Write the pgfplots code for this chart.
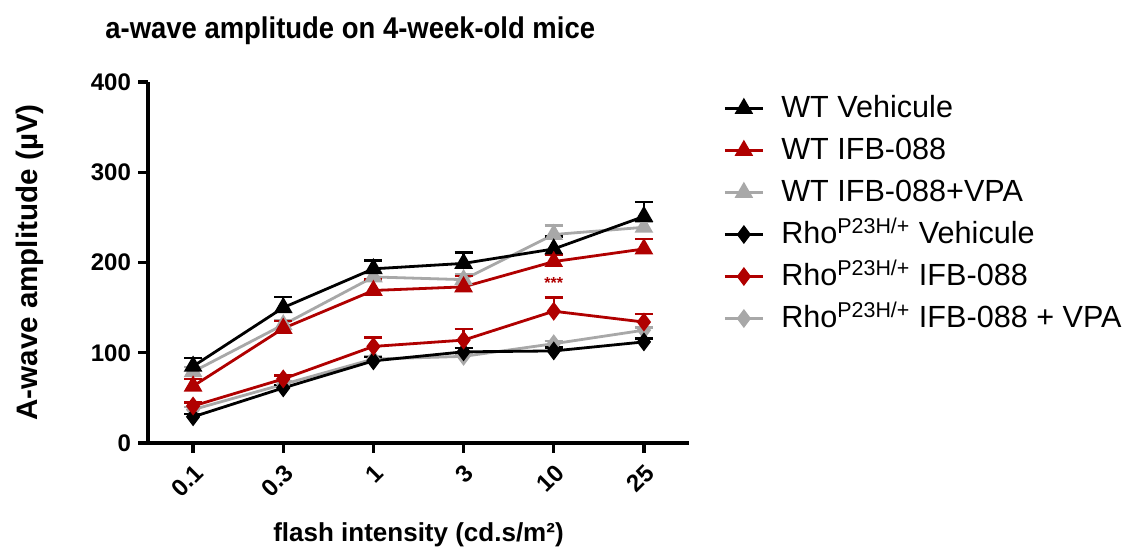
\documentclass[border=0pt]{standalone}
\usepackage{pgfplots}
\pgfplotsset{compat=1.18}
\usepackage{fontspec}
\setmainfont{Liberation Sans}
\definecolor{wred}{HTML}{B00000}
\definecolor{wgray}{HTML}{A8A8A8}
\begin{document}
\begin{tikzpicture}
\path[use as bounding box] (0,0) rectangle (567pt,275pt);
\node[anchor=base west,font=\fontsize{15}{17}\selectfont\bfseries,inner sep=0pt] at (52.5pt,255.5pt) {\scalebox{0.915}[1]{a-wave amplitude on 4-week-old mice}};
\begin{axis}[
  at={(74pt,53.5pt)}, anchor=south west,
  scale only axis, width=270.5pt, height=180.5pt,
  xmin=-0.5, xmax=5.5, ymin=0, ymax=400,
  axis lines*=left,
  axis line style={line width=1.6pt},
  tick style={line width=1.6pt, black},
  tick align=outside, major tick length=5pt,
  xtick={0,1,2,3,4,5},
  xticklabels={0.1,0.3,1,3,10,25},
  ytick={0,100,200,300,400},
  /pgf/number format/assume math mode=true,
  yticklabel style={font=\fontsize{12}{14}\selectfont\bfseries},
  xticklabel style={font=\fontsize{12}{14}\selectfont\bfseries, rotate=45, anchor=north east},
  ylabel={A-wave amplitude (µV)},
  ylabel style={at={(axis description cs:-0.218,0.5)}, anchor=center, font=\fontsize{14.8}{17}\selectfont\bfseries},
  xlabel={flash intensity (cd.s/m²)},
  xlabel style={at={(axis description cs:0.5,-0.255)}, anchor=center, font=\fontsize{13}{15}\selectfont\bfseries},
  clip=false,
  every axis plot/.append style={line width=1.4pt},
  error bars/y dir=plus, error bars/y explicit,
  error bars/error mark options={rotate=90, mark size=4.5pt, line width=1.2pt},
  error bars/error bar style={line width=1.2pt},
  legend style={at={(axis description cs:1.063,0.983)}, anchor=north west, draw=none, fill=none,
    font=\fontsize{15.3}{17}\selectfont, row sep=1.0pt, inner sep=0pt,
    nodes={text height=12.5pt, text depth=3.5pt}},
  legend cell align=left,
  legend image code/.code={\draw[mark repeat=2,mark phase=2] plot coordinates {(0pt,0pt) (9.5pt,0pt) (19pt,0pt)};\path (25.5pt,0pt);},
]
\addplot[wgray, mark=triangle*, mark size=4pt, mark options={solid}, forget plot] coordinates {(0,79) +- (0,5) (1,131) +- (0,5) (2,184) +- (0,5) (3,181) +- (0,6) (4,231) +- (0,10) (5,239) +- (0,6)};
\addplot[black, mark=triangle*, mark size=4pt] coordinates {(0,85) +- (0,9) (1,150) +- (0,12) (2,193) +- (0,9) (3,199) +- (0,12) (4,215) +- (0,14) (5,251) +- (0,16)};
\addlegendentry{WT Vehicule}
\addplot[wred, mark=triangle*, mark size=4pt] coordinates {(0,63) +- (0,8) (1,127) +- (0,8) (2,169) +- (0,12) (3,173) +- (0,12) (4,201) +- (0,8) (5,215) +- (0,11)};
\addlegendentry{WT IFB-088}
\addlegendimage{wgray, mark=triangle*, mark size=4pt, line width=1.4pt}
\addlegendentry{WT IFB-088+VPA}
\addplot[wgray, mark=diamond*, mark size=3.6pt, forget plot] coordinates {(0,37) +- (0,3) (1,65) +- (0,3) (2,93) +- (0,3) (3,96) +- (0,3) (4,110) +- (0,3) (5,125) +- (0,3)};
\addplot[black, mark=diamond*, mark size=3.6pt] coordinates {(0,29) +- (0,3) (1,61) +- (0,3) (2,91) +- (0,4) (3,101) +- (0,4) (4,102) +- (0,4) (5,112) +- (0,4)};
\addlegendentry{Rho\textsuperscript{P23H/+} Vehicule}
\addplot[wred, mark=diamond*, mark size=3.6pt] coordinates {(0,41) +- (0,4) (1,71) +- (0,4) (2,107) +- (0,10) (3,114) +- (0,12) (4,146) +- (0,15) (5,134) +- (0,9)};
\addlegendentry{Rho\textsuperscript{P23H/+} IFB-088}
\addlegendimage{wgray, mark=diamond*, mark size=3.6pt, line width=1.4pt}
\addlegendentry{Rho\textsuperscript{P23H/+} IFB-088 + VPA}
\node[wred, font=\fontsize{8}{9}\selectfont\bfseries] at (axis cs:4,177) {***};
\end{axis}
\end{tikzpicture}
\end{document}
